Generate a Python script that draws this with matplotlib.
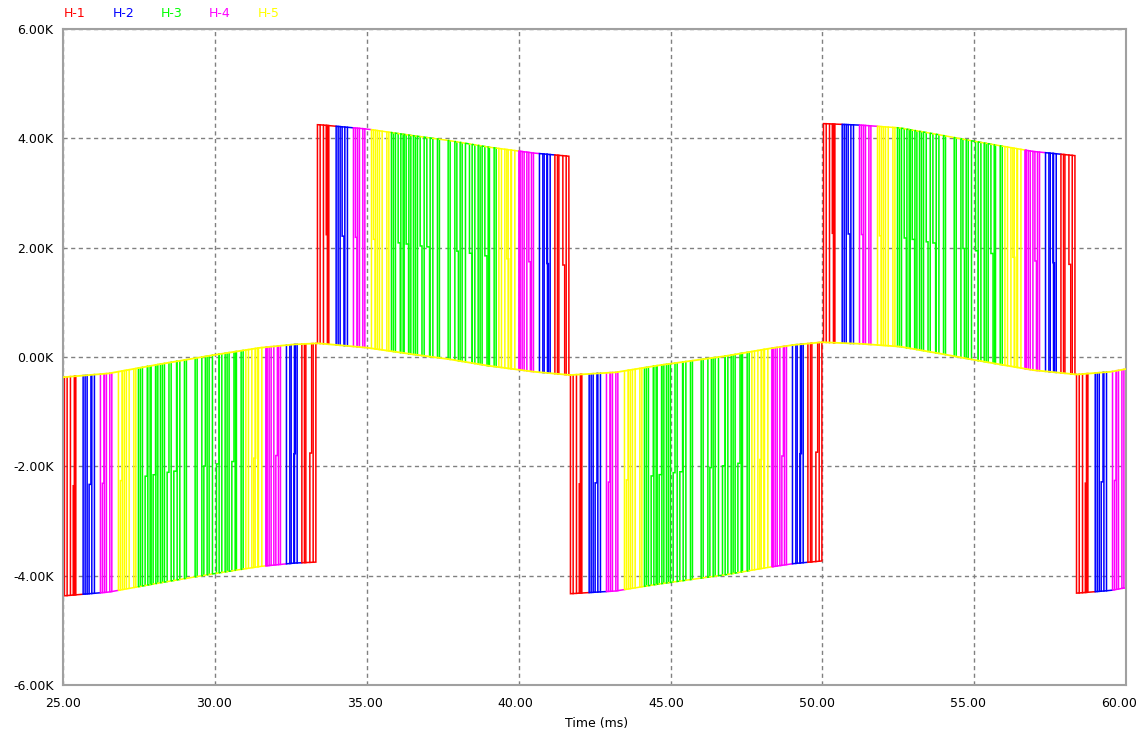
import numpy as np
import matplotlib
matplotlib.use("Agg")
import matplotlib.pyplot as plt
from matplotlib.transforms import ScaledTranslation

plt.rcParams["font.family"] = ["DejaVu Sans"]

# Traces
trace_names = ["H-1", "H-2", "H-3", "H-4", "H-5"]
trace_colors = ["#ff0000", "#0000ff", "#00ff00", "#ff00ff", "#ffff00"]

# Slowly varying reference level (V) that the pulse trains ride on
base_t = [25.0, 26.5, 28.2, 30.0, 31.5, 32.6, 33.4, 35.0, 36.5, 37.7, 39.0,
          40.5, 41.7, 43.2, 44.65, 46.85, 48.2, 49.04, 50.0, 51.3, 52.56,
          53.8, 54.97, 56.0, 56.94, 58.38, 59.5, 60.0]
base_v = [-370, -300, -130, 40, 170, 230, 250, 170, 50, -40, -160,
          -270, -330, -280, -150, 20, 150, 220, 270, 240, 190,
          70, -50, -150, -240, -320, -270, -220]

# Pulse height of the switched level (V); intermediate step halfway up
cell_voltage = 4000.0

# Start time (ms) and polarity of each half cycle
half_start = [25.037, 33.370, 41.703, 50.037, 58.370]
half_sign = [-1, 1, -1, 1, -1]

# Pulse pattern within one half cycle: edges (ms after half-cycle start)
pulse_on = [0.000, 0.198, 0.330, 0.616, 0.748, 0.902, 1.186, 1.318, 1.495,
            1.779, 1.910, 2.042, 2.286,
            2.437, 2.569, 2.747, 2.856, 3.011, 3.162, 3.294, 3.515, 3.712,
            3.953, 4.305, 4.526, 4.700, 4.875, 5.095, 5.293, 5.424, 5.623,
            5.820,
            5.975, 6.173, 6.281, 6.390,
            6.634, 6.742, 6.897, 7.049, 7.312, 7.467, 7.576, 7.820, 7.951,
            8.192]
pulse_off = [0.089, 0.290, 0.375, 0.682, 0.813, 0.988, 1.252, 1.383, 1.561,
             1.845, 1.976, 2.131, 2.352,
             2.503, 2.658, 2.823, 2.922, 3.076, 3.228, 3.383, 3.603, 3.801,
             4.018, 4.371, 4.592, 4.766, 5.007, 5.184, 5.358, 5.514, 5.665,
             5.886,
             6.061, 6.238, 6.370, 6.502,
             6.677, 6.808, 6.963, 7.115, 7.424, 7.556, 7.665, 7.905, 8.083,
             8.281]
pulse_trace = ([0] * 3 + [1] * 3 + [3] * 3 + [4] * 4 + [2] * 19 +
               [4] * 4 + [3] * 4 + [1] * 3 + [0] * 3)

# Falling edges that pass through the intermediate level, and how long (ms)
# the trace lingers there
split_pulse = [1, 4, 6, 9, 14, 16, 19, 20, 24, 26, 29, 33, 38, 41, 44]
split_hold = [0.045, 0.060, 0.050, 0.055, 0.070, 0.080, 0.060, 0.090,
              0.050, 0.085, 0.070, 0.060, 0.050, 0.055, 0.060]

x_ticks = [25, 30, 35, 40, 45, 50, 55, 60]
y_ticks = [-6000, -4000, -2000, 0, 2000, 4000, 6000]

fig = plt.figure(figsize=(11.48, 7.38), dpi=100)
ax = fig.add_axes([0.05514, 0.07182, 0.9257, 0.8889])


def level(t):
    return np.interp(t, base_t, base_v)


hold = dict(zip(split_pulse, split_hold))
lw = 1.1
for t0, sgn in zip(half_start, half_sign):
    n = len(pulse_on)
    for i in range(n):
        ta, tb = t0 + pulse_on[i], t0 + pulse_off[i]
        k = pulse_trace[i]
        col = trace_colors[k]
        top_a = level(ta) + sgn * cell_voltage
        top_b = level(tb) + sgn * cell_voltage
        if i in hold:
            tc = tb + hold[i]
            mid = level(tb) + sgn * cell_voltage / 2
            xs = [ta, ta, tb, tb, tc, tc]
            ys = [level(ta), top_a, top_b, mid, mid, level(tc)]
        else:
            xs = [ta, ta, tb, tb]
            ys = [level(ta), top_a, top_b, level(tb)]
        ax.plot(xs, ys, color=col, lw=lw, solid_joinstyle="miter", zorder=2)
        if i + 1 < n:
            tn = t0 + pulse_on[i + 1]
            rail_col = trace_colors[4] if k == 2 else col
            ax.plot([tb, tn],
                    [top_b, level(tn) + sgn * cell_voltage],
                    color=rail_col, lw=lw, zorder=2)

# common level drawn by the last trace
ax.plot(base_t, base_v, color=trace_colors[4], lw=1.3, zorder=3)

ax.set_xlim(25, 60)
ax.set_ylim(-6000, 6000)
ax.set_xticks(x_ticks)
ax.set_xticklabels([f"{v:.2f}" for v in x_ticks])
ax.set_yticks(y_ticks)
ax.set_yticklabels([f"{v / 1000:.2f}K" for v in y_ticks])
ax.tick_params(axis="x", length=0, labelsize=9, pad=9, colors="#000000")
ax.tick_params(axis="y", length=0, labelsize=9, pad=7, colors="#000000")
# time labels sit on a slightly tighter pitch than the grid
for v, lab in zip(x_ticks, ax.get_xticklabels()):
    dx = -(v - x_ticks[0]) * 0.21 / 100.0
    lab.set_transform(lab.get_transform() +
                      ScaledTranslation(dx, 0, fig.dpi_scale_trans))
ax.grid(True, color="#808080", linestyle=(0, (3, 2.5)), lw=1.0)
ax.set_axisbelow(True)
for sp in ax.spines.values():
    sp.set_color("#a0a0a0")
    sp.set_linewidth(1.5)

fig.text(597 / 1148, 1 - 724 / 738, "Time (ms)", ha="center", va="center",
         fontsize=9)

for i, (name, col) in enumerate(zip(trace_names, trace_colors)):
    fig.text((64 + 48.4 * i) / 1148, 1 - 13.5 / 738, name, color=col,
             ha="left", va="center", fontsize=9)

fig.savefig("out.png", dpi=100)
